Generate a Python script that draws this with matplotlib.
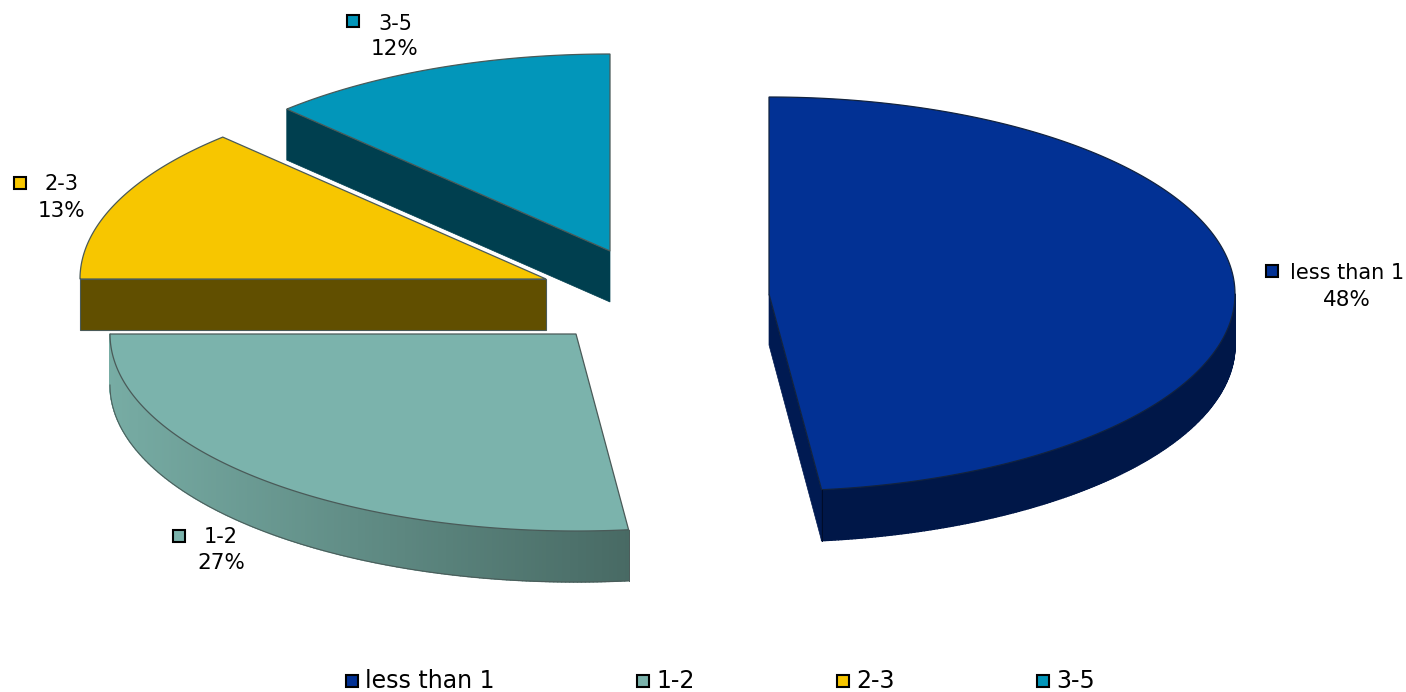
import numpy as np
import matplotlib
matplotlib.use("Agg")
import matplotlib.pyplot as plt
from matplotlib.collections import PolyCollection
from matplotlib.colors import to_rgb

categories = ["less than 1", "1-2", "2-3", "3-5"]
shares = [48.2, 26.8, 12.8, 12.2]

top_colors = ["#023194", "#7bb3ac", "#f7c600", "#0296ba"]
wall_dark = ["#001748", "#486a64", "#614f00", "#003f4f"]
wall_light = ["#001748", "#77aca4", "#614f00", "#003f4f"]
centers = [(769, 294), (576, 334), (546, 279), (610, 251)]

RX, RY, DEPTH = 466, 197, 51

fig = plt.figure(figsize=(14.06, 6.92), dpi=100)
ax = fig.add_axes([0, 0, 1, 1])
ax.set_xlim(0, 1406)
ax.set_ylim(692, 0)
ax.axis("off")


def arc(center, a0, a1, n=200):
    # angles in degrees, clockwise from the top of the pie
    t = np.radians(np.linspace(a0, a1, n))
    return np.column_stack([center[0] + RX * np.sin(t), center[1] - RY * np.cos(t)])


def draw_wall(pts, dark, light, edge=None):
    # shaded side strip, dark on the right side and light on the left
    lo, hi = pts[:, 0].min(), pts[:, 0].max()
    c0, c1 = np.array(to_rgb(light)), np.array(to_rgb(dark))
    quads, cols = [], []
    for p, q in zip(pts[:-1], pts[1:]):
        quads.append([p, q, q + [0, DEPTH], p + [0, DEPTH]])
        f = ((p[0] + q[0]) / 2 - lo) / max(hi - lo, 1)
        cols.append(c0 + (c1 - c0) * f)
    ax.add_collection(PolyCollection(quads, facecolors=cols, edgecolors=cols, linewidths=1.0))
    if edge:
        ax.plot(pts[:, 0], pts[:, 1] + DEPTH, color=edge, lw=0.7)


edges = np.cumsum([0] + shares) / sum(shares) * 360

# back slices first so the front ones overlap them
for i in [3, 2, 1, 0]:
    c = np.array(centers[i], dtype=float)
    a0, a1 = edges[i], edges[i + 1]
    rim = arc(c, a0, a1)
    edge = "#12233f" if i == 0 else "#4a5a58"

    if i == 0:
        # cut face, then the outer rim from the right-most point on
        cut = [c, rim[-1], rim[-1] + [0, DEPTH], c + [0, DEPTH]]
        ax.fill(*zip(*cut), color="#001a52", lw=0.5)
        draw_wall(arc(c, 90, a1), wall_dark[i], wall_light[i])
        ax.plot([rim[-1][0]] * 2, [rim[-1][1], rim[-1][1] + DEPTH], color="#000c2a", lw=0.7)
    elif i == 1:
        draw_wall(rim, wall_dark[i], wall_light[i], edge)
        ax.plot([rim[0][0]] * 2, [rim[0][1], rim[0][1] + DEPTH], color=edge, lw=0.7)
    elif i == 2:
        front = [rim[0], c, c + [0, DEPTH], rim[0] + [0, DEPTH]]
        ax.fill(*zip(*front), facecolor=wall_dark[i], edgecolor=edge, lw=0.8)
    else:
        side = [rim[0], c, c + [0, DEPTH], rim[0] + [0, DEPTH]]
        ax.fill(*zip(*side), facecolor=wall_dark[i], edgecolor=wall_dark[i], lw=0.5)

    top = np.vstack([c, rim])
    ax.fill(top[:, 0], top[:, 1], facecolor=top_colors[i], edgecolor=edge, lw=0.9, joinstyle="miter")

# data labels: key square, category name, share underneath
label_key = [(1272, 271), (179, 536), (20, 183), (353, 21)]
label_name = [(1347, 273), (221, 537), (62, 184), (395, 24)]
label_pct = [(1347, 300), (221, 563), (62, 211), (395, 49)]
for i, name in enumerate(categories):
    ax.plot(*label_key[i], marker="s", ms=8.2, mfc=top_colors[i], mec="black", mew=1.5)
    ax.text(*label_name[i], name, ha="center", va="center", fontsize=15, color="black")
    ax.text(*label_pct[i], f"{shares[i]:.0f}%", ha="center", va="center", fontsize=15.5, color="black")

# legend along the bottom
legend_key = [352, 643, 843, 1043]
for i, name in enumerate(categories):
    ax.plot(legend_key[i], 681, marker="s", ms=9, mfc=top_colors[i], mec="black", mew=1.5)
    ax.text(legend_key[i] + 13, 681, name, ha="left", va="center", fontsize=17, color="black")

fig.savefig("out.png", dpi=100, facecolor="white")
